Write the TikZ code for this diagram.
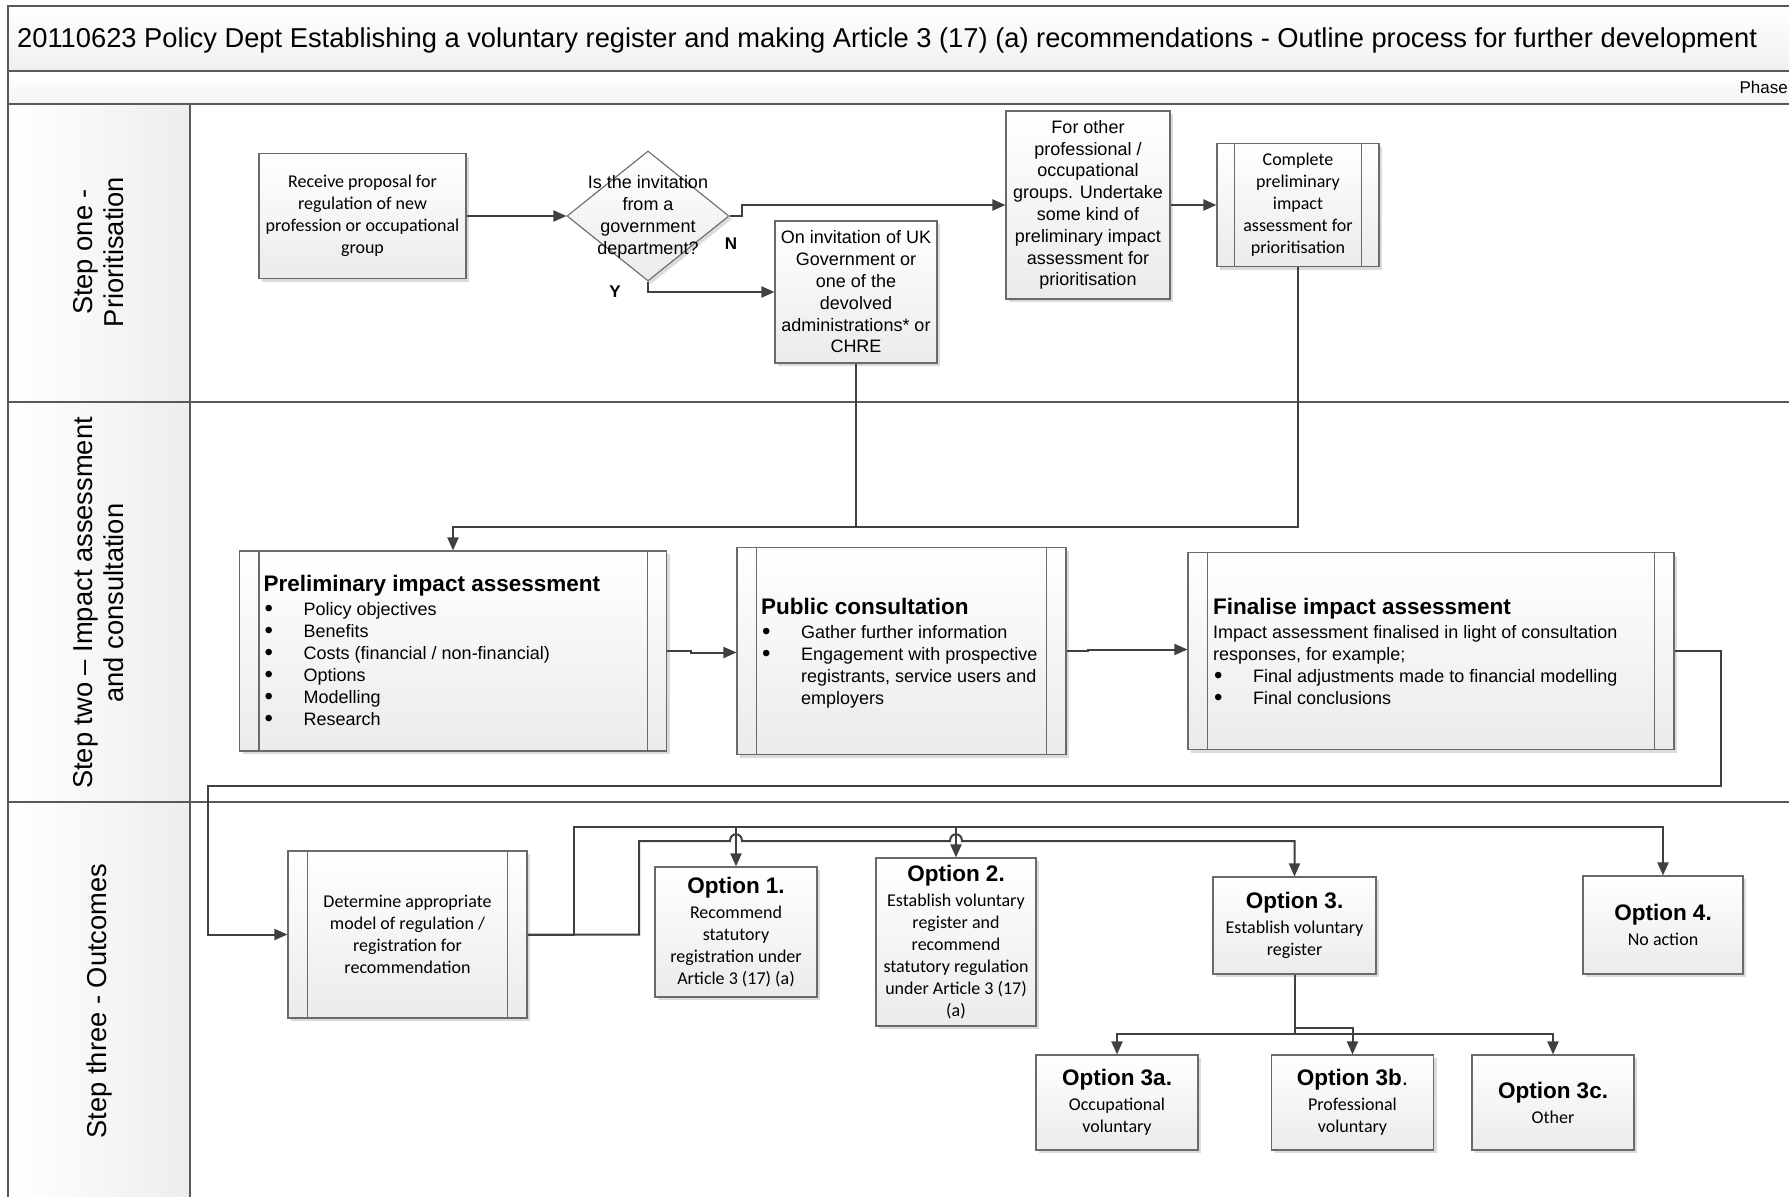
\documentclass[tikz,border=0pt]{standalone}
\usepackage{fontspec}
\setmainfont{Liberation Sans}
\newfontfamily\cali{Carlito}
\usetikzlibrary{arrows.meta,shapes.geometric,shadows,calc}
\definecolor{framec}{HTML}{595959}
\definecolor{boxc}{HTML}{6A6A6A}
\definecolor{linec}{HTML}{404040}
\definecolor{boxbot}{HTML}{EBEBEB}
\newcommand\hd[1]{{\rmfamily\fontsize{22.5}{22}\selectfont\bfseries #1}}
\newcommand\bl[1]{\makebox[40pt][l]{\hspace*{1pt}{\fontsize{24}{22}\selectfont\raisebox{-1pt}{•}}}#1}
\newcommand\ind[1]{\hspace*{40pt}#1}
\newcommand\sidebars[2]{\draw[boxc,line width=1.1pt] ([xshift=#2]#1.north west) -- ([xshift=#2]#1.south west) ([xshift=-#2]#1.north east) -- ([xshift=-#2]#1.south east);}
\tikzset{
 bx/.style={draw=boxc, line width=1.1pt, top color=white, bottom color=boxbot,
   drop shadow={shadow xshift=3pt, shadow yshift=-3pt, fill=black, opacity=0.14},
   inner sep=0pt, align=center},
 cal/.style={font=\cali\fontsize{18}{22}\selectfont},
 ari/.style={font=\fontsize{18}{21.8}\selectfont},
 bul/.style={font=\fontsize{18}{22.1}\selectfont},
 conn/.style={draw=linec, line width=2pt},
 arr/.style={conn, -{Triangle[length=13pt,width=11pt]}},
 lane/.style={rotate=90, align=center, font=\fontsize{27.3}{31}\selectfont},
 yn/.style={font=\fontsize{17}{20}\selectfont\bfseries},
}
\begin{document}
\begin{tikzpicture}[x=1pt,y=-1pt]
\useasboundingbox (0,0) rectangle (1789,1197);
\clip (0,0) rectangle (1789,1197);
\fill[white] (0,0) rectangle (1789,1197);
% frame and bands
\shade[top color=white,bottom color=gray!12] (8,6) rectangle (1800,71);
\shade[top color=white,bottom color=gray!9] (8,71) rectangle (1800,104);
\shade[left color=white,right color=gray!14] (8,104) rectangle (190,1200);
\draw[framec,line width=2pt] (1800,6) -- (8,6) -- (8,1200);
\draw[framec,line width=2pt] (8,71) -- (1800,71) (8,104) -- (1800,104) (190,104) -- (190,1200)
  (8,402) -- (1800,402) (8,802) -- (1800,802);
\node[anchor=west,font=\fontsize{27.3}{30}\selectfont,inner sep=0pt] (title) at (17,40)
  {20110623 Policy Dept Establishing a voluntary register and making Article 3 (17) (a) recommendations - Outline process for further development};
\node[anchor=east,font=\fontsize{17}{20}\selectfont,inner sep=0pt] (phase) at (1788,87) {Phase};
\node[lane] (lane1) at (99,252) {Step one -\\Prioritisation};
\node[lane] (lane2) at (99,603) {Step two -- Impact assessment\\and consultation};
\node[lane] (lane3) at (99,1001) {Step three - Outcomes};

% step one
\node[bx,cal,minimum width=207pt,minimum height=125pt] (recv) at (362.5,216)
  {Receive proposal for\\regulation of new\\profession or occupational\\group};
\node[bx,diamond,minimum width=162pt,minimum height=130pt] (dia) at (648,216) {};
\node[ari,align=center,inner sep=0pt] (diat) at (648,217) {Is the invitation\\from a\\government\\department?};
\node[yn] (nlab) at (731,244) {N};
\node[yn] (ylab) at (615,292) {Y};
\node[bx,ari,minimum width=164pt,minimum height=188pt] (other) at (1088,205)
  {For other\\professional /\\occupational\\groups. Undertake\\some kind of\\preliminary impact\\assessment for\\prioritisation};
\node[bx,ari,minimum width=162pt,minimum height=142pt] (inv) at (856,292)
  {On invitation of UK\\Government or\\one of the\\devolved\\administrations* or\\CHRE};
\node[bx,cal,minimum width=162pt,minimum height=123pt] (comp) at (1298,205)
  {Complete\\preliminary\\impact\\assessment for\\prioritisation};
\sidebars{comp}{18pt}

\draw[arr] (recv.east) -- (dia.west);
\draw[arr] (dia.east) -- ++(12,0) |- (other.west);
\draw[arr] (dia.south) |- (inv.west);
\draw[arr] (other.east) -- (comp.west);

% step two
\node[bx,minimum width=427pt,minimum height=200pt] (prelim) at (453,651) {};
\sidebars{prelim}{20pt}
\node[bul,align=left,anchor=north west,inner sep=0pt] (prelimt) at (263.5,574.6)
  {\hd{Preliminary impact assessment}\\[2pt]\bl{Policy objectives}\\\bl{Benefits}\\\bl{Costs (financial / non-financial)}\\\bl{Options}\\\bl{Modelling}\\\bl{Research}};
\node[bx,minimum width=329pt,minimum height=207pt] (public) at (901.5,651) {};
\sidebars{public}{20pt}
\node[bul,align=left,anchor=north west,inner sep=0pt] (publict) at (761,597.6)
  {\hd{Public consultation}\\[2pt]\bl{Gather further information}\\\bl{Engagement with prospective}\\\ind{registrants, service users and}\\\ind{employers}};
\node[bx,minimum width=486pt,minimum height=197pt] (final) at (1431,651) {};
\sidebars{final}{20pt}
\node[bul,align=left,anchor=north west,inner sep=0pt] (finalt) at (1213,597.6)
  {\hd{Finalise impact assessment}\\[2pt]Impact assessment finalised in light of consultation\\responses, for example;\\\bl{Final adjustments made to financial modelling}\\\bl{Final conclusions}};

\coordinate (jn) at (453,527);
\draw[conn] (inv.south) -- (inv.south |- jn);
\draw[arr] (comp.south) |- (prelim.north |- jn) -- (prelim.north);
\draw[arr] (prelim.east) -- ++(24,0) -- ++(0,1.5) -- (public.west |- 0,652.5);
\draw[arr] (public.east) -- ++(21,0) -- ++(0,-1.5) -- (final.west |- 0,649.5);

% step three
\node[bx,cal,minimum width=239pt,minimum height=167pt] (det) at (407.5,934.5)
  {Determine appropriate\\model of regulation /\\registration for\\recommendation};
\sidebars{det}{20pt}
\coordinate (loopR) at (1721,786);
\coordinate (loopL) at (208,786);
\draw[arr] (final.east) -| (loopR) -- (loopL) |- (det.west);

\node[bx,cal,minimum width=162pt,minimum height=130pt] (op1) at (736,932)
  {\hd{Option 1.}\\[3pt]Recommend\\statutory\\registration under\\Article 3 (17) (a)};
\node[bx,cal,minimum width=160pt,minimum height=168pt] (op2) at (956,942)
  {\hd{Option 2.}\\[3pt]Establish voluntary\\register and\\recommend\\statutory regulation\\under Article 3 (17)\\(a)};
\node[bx,cal,minimum width=163pt,minimum height=97pt] (op3) at (1294.5,925.5)
  {\hd{Option 3.}\\[3pt]Establish voluntary\\register};
\node[bx,cal,minimum width=160pt,minimum height=98pt] (op4) at (1663,925)
  {\hd{Option 4.}\\[3pt]No action};
\node[bx,cal,minimum width=162pt,minimum height=95pt] (op3a) at (1117,1102.5)
  {\hd{Option 3a.}\\[3pt]Occupational\\voluntary};
\node[bx,cal,minimum width=162pt,minimum height=95pt] (op3b) at (1352.5,1102.5)
  {\hd{Option 3b}{\rmfamily\fontsize{22.5}{22}\selectfont.}\\[3pt]Professional\\voluntary};
\node[bx,cal,minimum width=162pt,minimum height=95pt] (op3c) at (1553,1102.5)
  {\hd{Option 3c.}\\[3pt]Other};

\coordinate (s1) at (574,827);
\coordinate (s2) at (639,841);
\draw[arr] (det.east) -| (s1) -| (op4.north);
\draw[arr] (det.east) -| (s2) -- (730,841) .. controls (730,832) and (742,832) .. (742,841)
  -- (950,841) .. controls (950,832) and (962,832) .. (962,841) -| (op3.north);
\draw[arr] (op1.north |- s1) -- (op1.north);
\draw[arr] (op2.north |- s1) -- (op2.north);

\coordinate (t1) at (1294.5,1034);
\coordinate (t2) at (1294.5,1028);
\draw[arr] (op3.south) -- (t1) -| (op3a.north);
\draw[arr] (t1) -| (op3c.north);
\draw[arr] (t2) -| (op3b.north);
\end{tikzpicture}
\end{document}
